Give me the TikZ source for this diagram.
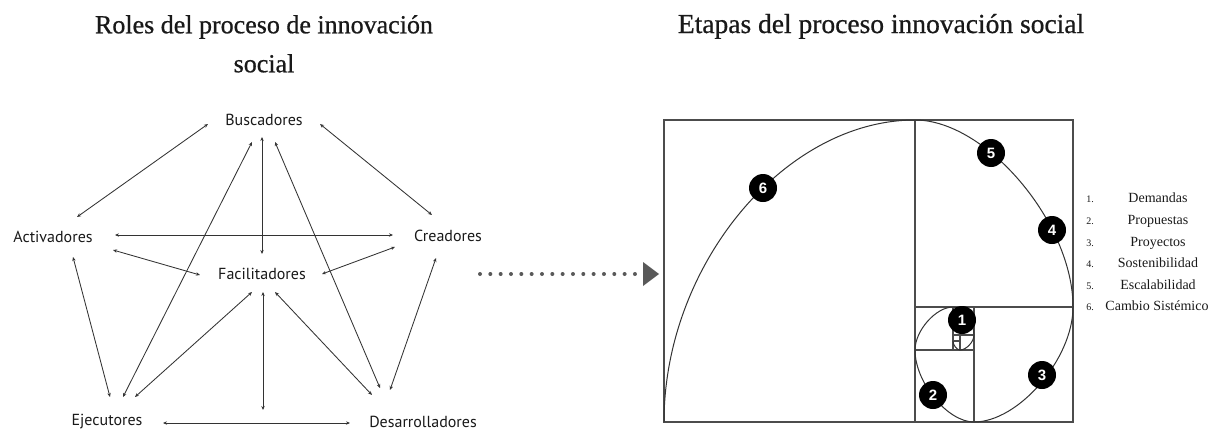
\documentclass[tikz,border=0pt]{standalone}
\usepackage{fontspec}
\setmainfont{Liberation Serif}
\newfontfamily\ttlfont[FakeBold=0.7]{Liberation Serif}
\newfontfamily\labfont{PT Sans}
\newfontfamily\numfont{Liberation Sans}
\usetikzlibrary{arrows.meta,calc}
\begin{document}
\begin{tikzpicture}[x=1pt,y=-1pt,
  lab/.style={font=\labfont\fontsize{16}{18}\selectfont, text=black!90, inner sep=0pt},
  rel/.style={draw=black!80, line width=0.85pt, {Stealth[length=4pt,width=3.4pt]}-{Stealth[length=4pt,width=3.4pt]}},
  ttl/.style={font=\ttlfont\fontsize{26}{39}\selectfont, text=black!90, align=center, inner sep=0pt},
  frame/.style={draw=black!70, line width=1.2pt},
  spiral/.style={draw=black!80, line width=1pt},
  num/.style={circle, fill=black, text=white, minimum size=28pt, inner sep=0pt, font=\numfont\bfseries\fontsize{15}{15}\selectfont},
  leg/.style={font=\fontsize{14}{14}\selectfont, inner sep=0pt, text=black!90, anchor=base},
  legnum/.style={font=\fontsize{10}{10}\selectfont, inner sep=0pt, text=black!90, anchor=base},
  dots/.style={draw=black!65, line width=4pt, line cap=round, dash pattern=on 0pt off 10.33pt},
]
\useasboundingbox (0,0) rectangle (1223,434);

% ---------- titles ----------
\node[ttl, anchor=north] (t1) at (264,15) {Roles del proceso de innovación\\social};
\node[ttl, anchor=base, font=\ttlfont\fontsize{27.5}{39}\selectfont] (t2) at (881,33) {Etapas del proceso innovación social};

% ---------- roles ----------
\node[lab] (busc)  at (264,120) {Buscadores};
\node[lab] (activ) at (53,237)  {Activadores};
\node[lab] (crea)  at (448,236) {Creadores};
\node[lab] (facil) at (262,274) {Facilitadores};
\node[lab] (ejec)  at (107,422) {Ejecutores};
\node[lab] (desa)  at (423,422) {Desarrolladores};
\coordinate (low) at (263,410);

\draw[rel] ($(busc)+(-56,4)$) -- ($(activ)+(24,-20)$);
\draw[rel] ($(busc)+(56,4)$) -- ($(crea)+(-16,-21)$);
\draw[rel] ($(activ)+(62,-2)$) -- ($(crea)+(-55,-1)$);
\draw[rel] ($(activ)+(60,13)$) -- ($(facil)+(-62,1)$);
\draw[rel] ($(crea)+(-53,11)$) -- ($(facil)+(60,0)$);
\draw[rel] ($(busc)+(-2,17)$) -- ($(facil)+(0,-20)$);
\draw[rel] ($(busc)+(-12,22)$) -- ($(ejec)+(16,-25)$);
\draw[rel] ($(busc)+(11,22)$) -- ($(desa)+(-43,-34)$);
\draw[rel] ($(activ)+(20,20)$) -- ($(ejec)+(3,-25)$);
\draw[rel] ($(crea)+(-12,22)$) -- ($(desa)+(-33,-32)$);
\draw[rel] ($(facil)+(-10,18)$) -- ($(ejec)+(28,-25)$);
\draw[rel] ($(facil)+(13,18)$) -- ($(desa)+(-51,-27)$);
\draw[rel] ($(facil)+(1,18)$) -- (low);
\draw[rel] ($(ejec)+(56,1)$) -- ($(desa)+(-73,1)$);

% ---------- dotted connector ----------
\coordinate (dstart) at (480,274);
\coordinate (dend) at (636,274);
\draw[dots] (dstart) -- (dend);
\fill[black!65] (643,262) -- (659,274) -- (643,286) -- cycle;

% ---------- golden rectangle ----------
\draw[frame] (664,120) rectangle (1073,422);
\draw[frame] (915,120) -- (915,422);
\draw[frame] (915,307) -- (1073,307);
\draw[frame] (974,307) -- (974,422);
\draw[frame] (915,350) -- (974,350);
\draw[frame] (953,307) -- (953,350);
\draw[frame] (953,335) -- (974,335);
\draw[frame] (960,335) -- (960,350);
\draw[frame] (953,341) -- (960,341);

\draw[spiral] (664,422) .. controls (664,265) and (784.5,120) .. (915,120)
  .. controls (986,120) and (1073,223) .. (1073,307)
  .. controls (1073,358.75) and (1018.5,422) .. (974,422)
  .. controls (947.5,422) and (915,382.4) .. (915,350)
  .. controls (915,330.65) and (935.9,307) .. (953,307)
  .. controls (962.5,307) and (974,322.4) .. (974,335)
  .. controls (974,341.75) and (966.3,350) .. (960,350)
  .. controls (956.8,350) and (953,345) .. (953,341);

\node[num] (n6) at (763,188) {6};
\node[num] (n5) at (991,153) {5};
\node[num] (n4) at (1052,230) {4};
\node[num] (n3) at (1042,375) {3};
\node[num] (n2) at (933,395) {2};
\node[num] (n1) at (962,320) {1};

% ---------- legend ----------
\node[legnum] (l1n) at (1090,202) {1.};
\node[legnum] (l2n) at (1090,224) {2.};
\node[legnum] (l3n) at (1090,246) {3.};
\node[legnum] (l4n) at (1090,267) {4.};
\node[legnum] (l5n) at (1090,289) {5.};
\node[legnum] (l6n) at (1090,310) {6.};
\node[leg] (l1) at (1158,202) {Demandas};
\node[leg] (l2) at (1158,224) {Propuestas};
\node[leg] (l3) at (1158,246) {Proyectos};
\node[leg] (l4) at (1158,267) {Sostenibilidad};
\node[leg] (l5) at (1158,289) {Escalabilidad};
\node[leg] (l6) at (1157,310) {Cambio Sistémico};
\end{tikzpicture}
\end{document}
